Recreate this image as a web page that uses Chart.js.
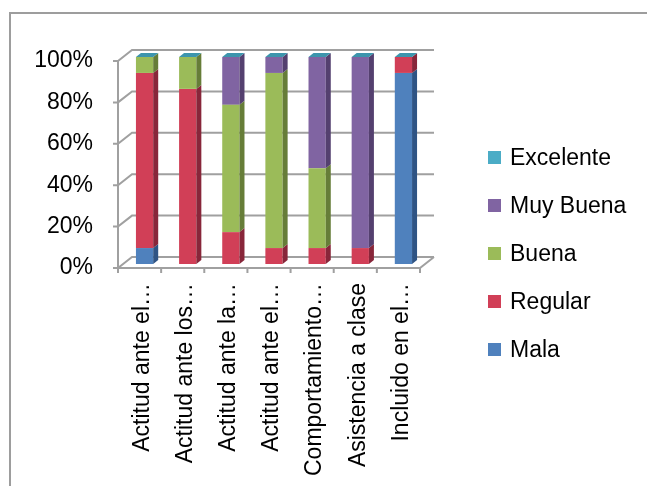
<!DOCTYPE html>
<html>
<head>
<meta charset="utf-8">
<script src="https://cdn.jsdelivr.net/npm/chart.js@4/dist/chart.umd.min.js"></script>
<style>
  html, body { margin: 0; padding: 0; background: #fff; }
  #wrap { position: relative; width: 647px; height: 486px; overflow: hidden; }
  #frame { position: absolute; left: 9px; top: 12px; width: 700px; height: 600px;
           border-left: 2px solid #9d9d9d; border-top: 2px solid #9d9d9d; }
  #chart { position: absolute; left: 0; top: 0; }
  #legend { position: absolute; left: 488px; top: 133px;
            font: 23px "Liberation Sans", Arial, sans-serif; color: #000; }
  #legend div { height: 48px; display: flex; align-items: center; }
  #legend .box { width: 13px; height: 13px; margin-right: 9px; display: inline-block; }
</style>
</head>
<body>
<div id="wrap">
  <div id="frame"></div>
  <canvas id="chart" width="647" height="486"></canvas>
  <div id="legend"></div>
</div>
<script>
// Categories (Excel truncated the long names)
let categories = ['Actitud ante el…', 'Actitud ante los…', 'Actitud ante la…', 'Actitud ante el…',
    'Comportamiento…', 'Asistencia a clase', 'Incluido en el…'];

// Series values, percent of each column
let mala      = [7.7, 0, 0, 0, 0, 0, 92.3];
let regular   = [84.6, 84.6, 15.4, 7.7, 7.7, 7.7, 7.7];
let buena     = [7.7, 15.4, 61.5, 84.6, 38.5, 0, 0];
let muyBuena  = [0, 0, 23.1, 7.7, 53.8, 92.3, 0];
let excelente = [0, 0, 0, 0, 0, 0, 0];

let seriesNames = ['Mala', 'Regular', 'Buena', 'Muy Buena', 'Excelente'];
let yTicks = [0, 20, 40, 60, 80, 100];

// Face colors: front, right side, top
let frontColors = ['#4f81bd', '#d13f57', '#9bbb59', '#8064a2', '#4bacc6'];
let sideColors  = ['#2f5484', '#88263a', '#667d38', '#54406f', '#2f7f94'];
let topColors   = ['#6d98cc', '#e0687c', '#b2cd7c', '#9a82bb', '#3d95ad'];

const gridColor = '#a0a0a0';
const fontFamily = '"Liberation Sans", Arial, sans-serif';
const wallDepth = { x: 14, y: -11 };
const barDepth = { x: 5, y: -4 };
const barShift = { x: 5, y: -4 };

// Draws the walls/floor of the 3D plot and the side and top faces of the bars
const threeD = {
    id: 'threeD',
    beforeDatasetsDraw(chart) {
        const { ctx, scales: { x, y } } = chart;
        const y0 = y.getPixelForValue(0);
        const y100 = y.getPixelForValue(100);
        ctx.save();
        ctx.strokeStyle = gridColor;
        ctx.lineWidth = 2;
        ctx.beginPath();
        yTicks.forEach(v => {
            const py = y.getPixelForValue(v);
            ctx.moveTo(x.left - 5, py);
            ctx.lineTo(x.left, py);
            ctx.lineTo(x.left + wallDepth.x, py + wallDepth.y);
            ctx.lineTo(x.right + wallDepth.x, py + wallDepth.y);
        });
        ctx.moveTo(x.left, y100);
        ctx.lineTo(x.left, y0);
        ctx.lineTo(x.right, y0);
        ctx.lineTo(x.right + wallDepth.x, y0 + wallDepth.y);
        const n = categories.length;
        for (let i = 0; i <= n; i++) {
            const px = x.left + i * (x.right - x.left) / n;
            ctx.moveTo(px, y0);
            ctx.lineTo(px, y0 + 5);
        }
        ctx.stroke();
        ctx.restore();

        ctx.save();
        ctx.translate(barShift.x, barShift.y);
    },
    afterDatasetsDraw(chart) {
        const { ctx } = chart;
        const last = chart.data.datasets.length - 1;
        chart.data.datasets.forEach((ds, di) => {
            chart.getDatasetMeta(di).data.forEach(bar => {
                const { x: cx, y: top, base, width } = bar.getProps(['x', 'y', 'base', 'width'], true);
                const l = cx - width / 2, r = cx + width / 2;
                if (base - top > 0.5) {
                    ctx.fillStyle = sideColors[di];
                    ctx.beginPath();
                    ctx.moveTo(r, top);
                    ctx.lineTo(r + barDepth.x, top + barDepth.y);
                    ctx.lineTo(r + barDepth.x, base + barDepth.y);
                    ctx.lineTo(r, base);
                    ctx.closePath();
                    ctx.fill();
                }
                if (di === last) {
                    ctx.fillStyle = topColors[di];
                    ctx.beginPath();
                    ctx.moveTo(l, top);
                    ctx.lineTo(l + barDepth.x, top + barDepth.y);
                    ctx.lineTo(r + barDepth.x, top + barDepth.y);
                    ctx.lineTo(r, top);
                    ctx.closePath();
                    ctx.fill();
                }
            });
        });
        ctx.restore();
    }
};

let seriesData = [mala, regular, buena, muyBuena, excelente];

let chart = new Chart(document.getElementById('chart'), {
    type: 'bar',
    data: {
        labels: categories,
        datasets: seriesNames.map((name, i) => ({
            label: name,
            data: seriesData[i],
            backgroundColor: frontColors[i],
            borderWidth: 0,
            categoryPercentage: 1,
            barPercentage: 0.4,
            clip: false
        }))
    },
    options: {
        responsive: false,
        animation: false,
        layout: { padding: { left: 0, top: 61, right: 227, bottom: 0 } },
        plugins: { legend: { display: false }, tooltip: { enabled: false } },
        scales: {
            x: {
                stacked: true,
                grid: { display: false, drawTicks: false },
                border: { display: false },
                ticks: {
                    autoSkip: false, minRotation: 90, maxRotation: 90, padding: 15, labelOffset: 3,
                    color: '#000', font: { family: fontFamily, size: 23 }
                },
                afterFit(scale) { scale.height = 218; }
            },
            y: {
                stacked: true,
                min: 0, max: 100,
                grid: { display: false, drawTicks: false },
                border: { display: false },
                ticks: {
                    stepSize: 20, padding: 25,
                    color: '#000', font: { family: fontFamily, size: 23 },
                    callback: v => v + '%'
                },
                afterFit(scale) { scale.width = 118; }
            }
        }
    },
    plugins: [threeD]
});

// Legend, top to bottom in reverse series order
let legend = document.getElementById('legend');
seriesNames.slice().reverse().forEach((name, k) => {
    const i = seriesNames.length - 1 - k;
    const row = document.createElement('div');
    row.innerHTML = `<span class="box" style="background:${frontColors[i]}"></span>${name}`;
    legend.appendChild(row);
});
</script>
</body>
</html>
